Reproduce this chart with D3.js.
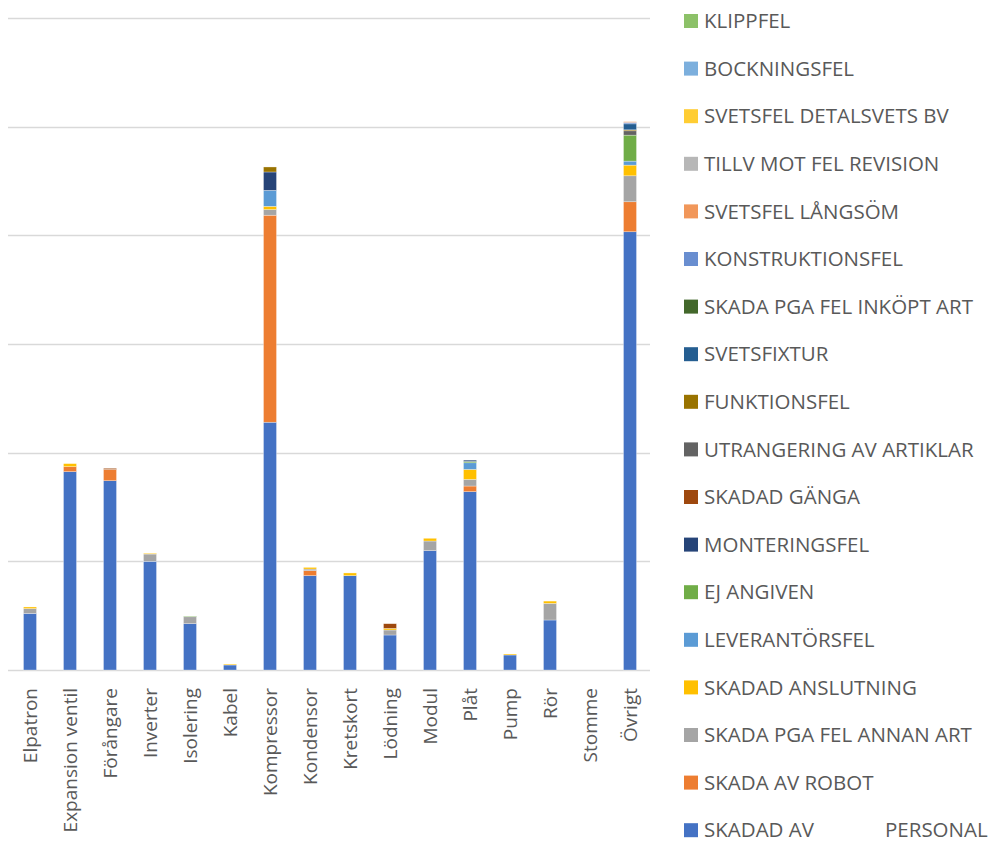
<!DOCTYPE html>
<html>
<head>
<meta charset="utf-8">
<script src="https://cdn.jsdelivr.net/npm/d3@7"></script>
<style>
  body { margin: 0; background: #fff; }
  text { font-family: "Open Sans", sans-serif; }
</style>
</head>
<body>
<div id="chart"></div>
<script>
// categories on the x axis
var categories = ["Elpatron", "Expansion ventil", "Förångare", "Inverter", "Isolering", "Kabel",
  "Kompressor", "Kondensor", "Kretskort", "Lödning", "Modul", "Plåt", "Pump", "Rör", "Stomme", "Övrigt"];

// series, bottom of the stack first
var seriesNames = ["SKADAD AV PERSONAL", "SKADA AV ROBOT", "SKADA PGA FEL ANNAN ART",
  "SKADAD ANSLUTNING", "LEVERANTÖRSFEL", "EJ ANGIVEN", "MONTERINGSFEL", "SKADAD GÄNGA",
  "UTRANGERING AV ARTIKLAR", "FUNKTIONSFEL", "SVETSFIXTUR", "SKADA PGA FEL INKÖPT ART",
  "KONSTRUKTIONSFEL", "SVETSFEL LÅNGSÖM", "TILLV MOT FEL REVISION", "SVETSFEL DETALSVETS BV",
  "BOCKNINGSFEL", "KLIPPFEL"];

var seriesColors = ["#4472C4", "#ED7D31", "#A5A5A5", "#FFC000", "#5B9BD5", "#70AD47",
  "#264478", "#9E480E", "#636363", "#997300", "#255E91", "#43682B",
  "#698ED0", "#F1975A", "#B7B7B7", "#FFCD33", "#7CAFDD", "#8CC168"];

// values per series, one per category (no axis labels shown)
var skadadAvPersonal  = [5.2, 18.25, 17.42, 10.0, 4.26, 0.46, 22.8, 8.68, 8.68, 3.22, 10.98, 16.41, 1.38, 4.6, 0, 40.33];
var skadaAvRobot      = [0, 0.46, 1.04, 0, 0, 0, 19.05, 0.46, 0, 0, 0, 0.52, 0, 0, 0, 2.76];
var felAnnanArt       = [0.45, 0, 0, 0.67, 0.64, 0, 0.52, 0.15, 0, 0.46, 0.89, 0.61, 0, 1.53, 0, 2.39];
var skadadAnslutning  = [0.15, 0.28, 0, 0.07, 0, 0.08, 0.3, 0.15, 0.25, 0.15, 0.25, 0.92, 0.09, 0.21, 0, 0.98];
var leverantorsfel    = [0, 0, 0, 0, 0, 0, 1.47, 0, 0, 0, 0, 0.61, 0, 0, 0, 0.37];
var ejAngiven         = [0, 0, 0, 0, 0.06, 0, 0, 0, 0, 0, 0, 0.12, 0, 0, 0, 2.39];
var monteringsfel     = [0, 0, 0, 0, 0, 0, 1.69, 0, 0, 0, 0, 0.12, 0, 0, 0, 0];
var skadadGanga       = [0, 0, 0.1, 0, 0, 0, 0, 0, 0, 0.43, 0, 0, 0, 0, 0, 0];
var utrangering       = [0, 0, 0, 0, 0, 0, 0, 0, 0, 0, 0, 0, 0, 0, 0, 0.4];
var funktionsfel      = [0, 0, 0, 0, 0, 0, 0.46, 0, 0, 0, 0, 0, 0, 0, 0, 0.09];
var svetsfixtur       = [0, 0, 0, 0, 0, 0, 0, 0, 0, 0, 0, 0, 0, 0, 0, 0.55];
var felInkoptArt      = [0, 0, 0, 0, 0, 0, 0, 0, 0, 0, 0, 0, 0, 0, 0, 0];
var konstruktionsfel  = [0, 0, 0, 0, 0, 0, 0, 0, 0, 0, 0, 0, 0, 0, 0, 0.13];
var svetsfelLangsom   = [0, 0, 0, 0, 0, 0, 0, 0, 0, 0, 0, 0, 0, 0, 0, 0.07];
var tillvRevision     = [0, 0, 0, 0, 0, 0, 0, 0, 0, 0, 0, 0, 0, 0, 0, 0];
var svetsfelDetalsvets = [0, 0, 0, 0, 0, 0, 0, 0, 0, 0, 0, 0, 0, 0, 0, 0];
var bockningsfel      = [0, 0, 0, 0, 0, 0, 0, 0, 0, 0, 0, 0, 0, 0, 0, 0];
var klippfel          = [0, 0, 0, 0, 0, 0, 0, 0, 0, 0, 0, 0, 0, 0, 0, 0];

var gridTicks = [0, 10, 20, 30, 40, 50, 60];

var seriesValues = [skadadAvPersonal, skadaAvRobot, felAnnanArt, skadadAnslutning, leverantorsfel,
  ejAngiven, monteringsfel, skadadGanga, utrangering, funktionsfel, svetsfixtur, felInkoptArt,
  konstruktionsfel, svetsfelLangsom, tillvRevision, svetsfelDetalsvets, bockningsfel, klippfel];

// build rows for d3.stack
var keys = seriesNames.map(function(d, i) { return "s" + i; });
var data = categories.map(function(c, j) {
  var row = {cat: c};
  seriesValues.forEach(function(arr, i) { row[keys[i]] = arr[j]; });
  return row;
});

var width = 990, height = 847;

var svg = d3.select("#chart")
  .append("svg")
    .attr("width", width)
    .attr("height", height);

var x = d3.scaleBand()
  .domain(categories)
  .range([10, 650])
  .paddingInner(0.675)
  .paddingOuter(0.3375);

var y = d3.scaleLinear()
  .domain([0, 60])
  .range([670, 18]);

var color = d3.scaleOrdinal()
  .domain(keys)
  .range(seriesColors);

// gridlines
svg.append("g")
  .selectAll("line")
  .data(gridTicks)
  .enter().append("line")
    .attr("x1", 8)
    .attr("x2", 650)
    .attr("y1", function(d) { return Math.round(y(d)) + 0.5; })
    .attr("y2", function(d) { return Math.round(y(d)) + 0.5; })
    .attr("stroke", "#d9d9d9")
    .attr("stroke-width", 1.5);

var stackedData = d3.stack().keys(keys)(data);

// bars
svg.append("g")
  .selectAll("g")
  .data(stackedData)
  .enter().append("g")
    .attr("fill", function(d) { return color(d.key); })
    .selectAll("rect")
    .data(function(d) { return d.filter(function(p) { return p[1] - p[0] > 0; }); })
    .enter().append("rect")
      .attr("x", function(d) { return x(d.data.cat); })
      .attr("y", function(d) { return y(d[1]); })
      .attr("height", function(d) { return y(d[0]) - y(d[1]); })
      .attr("width", x.bandwidth())
      .attr("stroke", "#ffffff")
      .attr("stroke-opacity", 0.5)
      .attr("stroke-width", 0.6);

// x labels, rotated
svg.append("g")
  .selectAll("text")
  .data(categories)
  .enter().append("text")
    .attr("transform", function(d) {
      return "translate(" + (x(d) + x.bandwidth() / 2) + ",688) rotate(-90)";
    })
    .attr("text-anchor", "end")
    .attr("dy", "0.35em")
    .attr("font-size", "19px")
    .attr("fill", "#595959")
    .text(function(d) { return d; });

// legend, top entry is the last series
var legend = svg.append("g")
  .attr("transform", "translate(684,21)");

var legendItems = legend.selectAll("g")
  .data(keys.slice().reverse())
  .enter().append("g")
    .attr("transform", function(d, i) { return "translate(0," + (i * 47.6) + ")"; });

legendItems.append("rect")
  .attr("x", 0)
  .attr("y", -7)
  .attr("width", 14)
  .attr("height", 14)
  .attr("fill", function(d) { return color(d); });

var legendText = legendItems.append("text")
  .attr("x", 20)
  .attr("y", 0)
  .attr("dy", "0.35em")
  .attr("font-size", "20.5px")
  .attr("fill", "#595959");

// the first series is drawn with a wide gap before its last word, as in the original
legendText.each(function(d) {
  var name = seriesNames[keys.indexOf(d)];
  var t = d3.select(this);
  if (name === "SKADAD AV PERSONAL") {
    t.append("tspan").text("SKADAD AV");
    t.append("tspan").attr("x", 201).text("PERSONAL");
  } else {
    t.text(name);
  }
});
</script>
</body>
</html>
